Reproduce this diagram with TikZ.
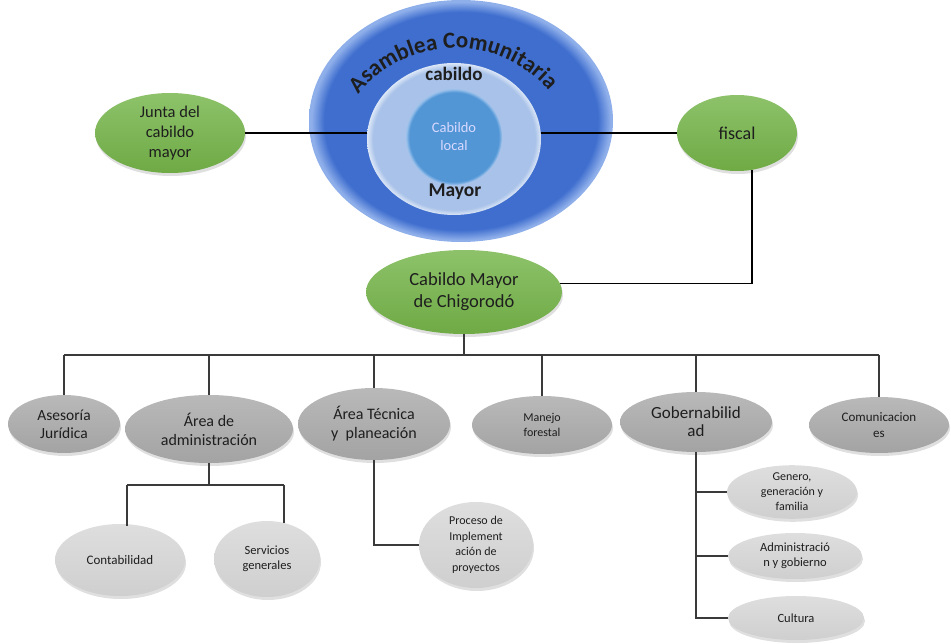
\documentclass[tikz,border=0pt]{standalone}
\usepackage{fontspec}
\setmainfont{Carlito}
\usetikzlibrary{shapes.geometric,shadows,decorations.text,calc}
\definecolor{bluemain}{HTML}{3F6ECE}
\definecolor{bluerim}{HTML}{8FAFEA}
\definecolor{midblue}{HTML}{A9C2E9}
\definecolor{midrim}{HTML}{DCE7F7}
\definecolor{innerblue}{HTML}{5296D6}
\definecolor{innerrim}{HTML}{9EC3EC}
\definecolor{grn}{HTML}{6FAA45}
\definecolor{grnlight}{HTML}{8DC26A}
\definecolor{gray2}{HTML}{A3A3A3}
\definecolor{gray2l}{HTML}{B9B9B9}
\definecolor{gray3}{HTML}{CFCFCF}
\definecolor{gray3l}{HTML}{DEDEDE}
\definecolor{linec}{HTML}{3A3A3A}
\definecolor{txtd}{HTML}{1E1E1E}
\pgfdeclareradialshading{outerrim}{\pgfpoint{0bp}{0bp}}{color(0bp)=(bluemain); color(22.5bp)=(bluemain); color(24.6bp)=(bluerim); color(25bp)=(bluerim); color(50bp)=(bluerim)}
\pgfdeclareradialshading{midshade}{\pgfpoint{0bp}{0bp}}{color(0bp)=(midblue); color(23.3bp)=(midblue); color(25bp)=(midrim); color(50bp)=(midrim)}
\pgfdeclareradialshading{innershade}{\pgfpoint{0bp}{0bp}}{color(0bp)=(innerblue); color(23.3bp)=(innerblue); color(25bp)=(innerrim); color(50bp)=(innerrim)}
\tikzset{
  oval/.style={ellipse, inner sep=0pt, align=center, text=txtd,
    drop shadow={shadow xshift=1pt, shadow yshift=-3pt, opacity=0.25}},
  grnnode/.style={oval, top color=grnlight, bottom color=grn},
  graytwo/.style={oval, top color=gray2l, bottom color=gray2},
  graythree/.style={oval, top color=gray3l, bottom color=gray3},
  conn/.style={draw=linec, line width=1.5pt},
  topconn/.style={draw=black, line width=1.2pt}
}
\newcommand{\fs}[2]{\fontsize{#1}{#2}\selectfont}
\begin{document}
\begin{tikzpicture}[x=1pt, y=-1pt]
\useasboundingbox (0,0) rectangle (951,644);
% blue circles
\node[ellipse, shading=outerrim, minimum width=304, minimum height=242, inner sep=0pt] (asam) at (461,121) {};
\node[ellipse, shading=midshade, minimum width=174, minimum height=152, inner sep=0pt] (mid) at (454,139) {};
\node[ellipse, shading=innershade, minimum width=96, minimum height=96, inner sep=0pt, align=center, text=white!85!blue, font=\fs{14.5}{18}] (inner) at (454,137) {Cabildo\\local};
\node[font=\bfseries\fs{19}{20}, text=txtd] (cab) at (454,74) {cabildo};
\node[font=\bfseries\fs{19.5}{20}, text=txtd] (may) at (455,192) {Mayor};
\path[decorate, decoration={text along path, text align=center,
  text={|\bfseries\fs{23}{26}\color{txtd}|Asamblea Comunitaria}}]
  (455,172) ++(147:124pt) arc[start angle=147, end angle=35, radius=124pt];
% green nodes
\node[grnnode, minimum width=150, minimum height=80, font=\fs{16.5}{20}] (junta) at (170,133) {Junta del\\cabildo\\mayor};
\node[grnnode, minimum width=120, minimum height=76, font=\fs{18}{20}] (fiscal) at (737,133) {fiscal};
\node[grnnode, minimum width=196, minimum height=84, font=\fs{18.5}{22}] (cm) at (464,292) {Cabildo Mayor\\de Chigorodó};
% level 2
\node[graytwo, minimum width=112, minimum height=58, font=\fs{15.5}{18}] (ases) at (64,424) {Asesoría\\Jurídica};
\node[graytwo, minimum width=168, minimum height=68, font=\fs{16}{19}] (adm) at (209,429) {Área de\\administración};
\node[graytwo, minimum width=152, minimum height=72, font=\fs{16}{19}] (tec) at (374,424) {Área Técnica\\y\ \ planeación};
\node[graytwo, minimum width=140, minimum height=58, font=\fs{12}{15}] (mane) at (542,425) {Manejo\\forestal};
\node[graytwo, minimum width=152, minimum height=60, font=\fs{17}{18}] (gob) at (696,422) {Gobernabilid\\ad};
\node[graytwo, minimum width=140, minimum height=56, font=\fs{13}{15.5}] (comu) at (879,425) {Comunicacion\\es};
% level 3
\node[graythree, minimum width=130, minimum height=72, font=\fs{13}{15}] (cont) at (120,560) {Contabilidad};
\node[graythree, minimum width=106, minimum height=76, font=\fs{12.5}{15}] (serv) at (267,559) {Servicios\\generales};
\node[graythree, minimum width=114, minimum height=86, font=\fs{12}{15.5}] (proc) at (476,545) {Proceso de\\Implement\\ación de\\proyectos};
\node[graythree, minimum width=130, minimum height=50, font=\fs{12}{15}] (gen) at (792,492) {Genero,\\generación y\\familia};
\node[graythree, minimum width=134, minimum height=46, font=\fs{12.5}{15}] (adm2) at (795,556) {Administració\\n y gobierno};
\node[graythree, minimum width=136, minimum height=44, font=\fs{12.5}{15}] (cult) at (796,618) {Cultura};
% top connectors
\draw[topconn] (junta.east) -- (junta.east -| mid.west);
\draw[topconn] (fiscal.west) -- (fiscal.west -| mid.east);
\draw[topconn] (fiscal.-68) |- (cm.5);
% tree
\coordinate (bus) at (464,355);
\draw[conn] (cm.south) -- (bus);
\draw[conn] (ases.north |- bus) -- (comu.north |- bus);
\foreach \n in {ases,adm,tec,mane,gob,comu}
  \draw[conn] (\n.north |- bus) -- (\n.north);
\coordinate (b2) at (209,485);
\coordinate (b2l) at (127,485);
\coordinate (b2r) at (284,485);
\draw[conn] (adm.south) -- (b2);
\draw[conn] (b2l) -- (b2r);
\draw[conn] (b2l) -- ($(b2l |- cont.north)+(0,2)$);
\draw[conn] (b2r) -- ($(b2r |- serv.north)+(0,2)$);
\draw[conn] (tec.south) |- (proc.west);
\draw[conn] (gob.south) |- (cult.west);
\draw[conn] (gen.west) -- (gen.west -| gob.south);
\draw[conn] (adm2.west) -- (adm2.west -| gob.south);
\end{tikzpicture}
\end{document}
